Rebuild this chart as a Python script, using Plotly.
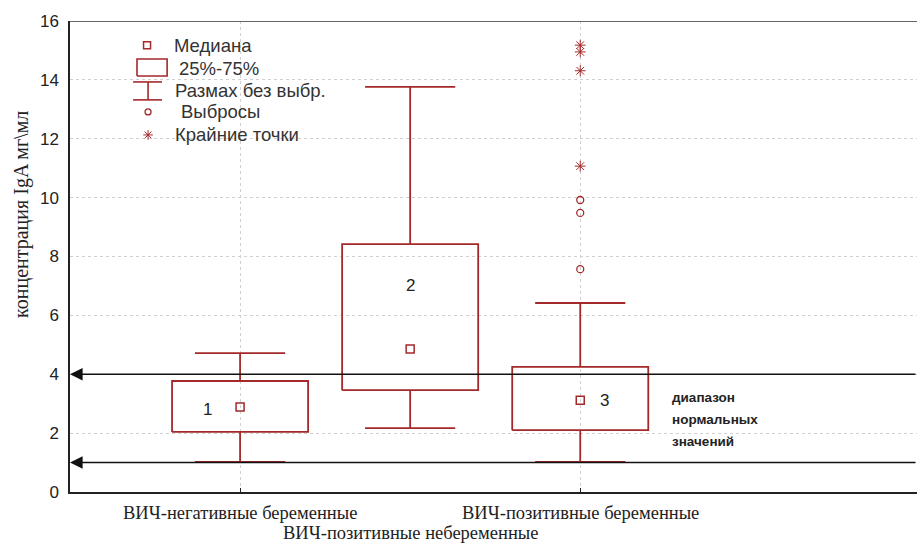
import plotly.graph_objects as go

# Groups and box statistics (IgA concentration, mg/ml)
groups = ["ВИЧ-негативные беременные", "ВИЧ-позитивные небеременные", "ВИЧ-позитивные беременные"]
positions = [1, 2, 3]
box_labels = ["1", "2", "3"]
medians = [2.89, 4.86, 3.12]
q1 = [2.04, 3.46, 2.10]
q3 = [3.77, 8.42, 4.25]
whisk_lo = [1.02, 2.17, 1.02]
whisk_hi = [4.72, 13.76, 6.42]

# Outliers and extreme points of group 3
outliers_3 = [9.92, 9.48, 7.57]
extremes_3 = [15.18, 14.95, 14.31, 11.07]

# Normal range boundaries
norm_range = [1.0, 4.0]

RED = "#A3292B"
BOX_HW = 0.4
CAP_HW = 0.265
X_MAX = 4.98

fig = go.Figure()

for x, lo, a, b, hi in zip(positions, whisk_lo, q1, q3, whisk_hi):
    # box
    fig.add_trace(go.Scatter(
        x=[x - BOX_HW, x + BOX_HW, x + BOX_HW, x - BOX_HW, x - BOX_HW],
        y=[a, a, b, b, a], mode="lines",
        line=dict(color=RED, width=1.8), hoverinfo="skip", showlegend=False))
    # whiskers and caps
    fig.add_trace(go.Scatter(
        x=[x, x, None, x, x, None, x - CAP_HW, x + CAP_HW, None, x - CAP_HW, x + CAP_HW],
        y=[b, hi, None, a, lo, None, hi, hi, None, lo, lo], mode="lines",
        line=dict(color=RED, width=1.8), hoverinfo="skip", showlegend=False))

# medians
fig.add_trace(go.Scatter(
    x=positions, y=medians, mode="markers",
    marker=dict(symbol="square-open", size=8, color=RED, line=dict(width=1.5)),
    showlegend=False))

# outliers and extremes
fig.add_trace(go.Scatter(
    x=[3] * len(outliers_3), y=outliers_3, mode="markers",
    marker=dict(symbol="circle-open", size=7, color=RED, line=dict(width=1.3)),
    showlegend=False))
fig.add_trace(go.Scatter(
    x=[3] * len(extremes_3), y=extremes_3, mode="markers",
    marker=dict(symbol="asterisk-open", size=9, color=RED, line=dict(width=1)),
    showlegend=False))

# box numbers
label_pos = [(0.81, 2.79), (2.0, 7.03), (3.14, 3.12)]
for (lx, ly), t in zip(label_pos, box_labels):
    fig.add_annotation(x=lx, y=ly, text=t, showarrow=False,
                       font=dict(family="Liberation Sans, Arial", size=17, color="#222"))

# legend key drawn inside the plot
fig.add_trace(go.Scatter(x=[0.453], y=[15.18], mode="markers",
                         marker=dict(symbol="square-open", size=7, color=RED, line=dict(width=1.5)),
                         showlegend=False))
fig.add_trace(go.Scatter(x=[0.394, 0.571, 0.571, 0.394, 0.394],
                         y=[14.13, 14.13, 14.71, 14.71, 14.13], mode="lines",
                         line=dict(color=RED, width=1.6), showlegend=False))
fig.add_trace(go.Scatter(x=[0.371, 0.541, None, 0.371, 0.541, None, 0.459, 0.459],
                         y=[13.93, 13.93, None, 13.32, 13.32, None, 13.93, 13.32], mode="lines",
                         line=dict(color=RED, width=1.6), showlegend=False))
fig.add_trace(go.Scatter(x=[0.459], y=[12.91], mode="markers",
                         marker=dict(symbol="circle-open", size=6, color=RED, line=dict(width=1.3)),
                         showlegend=False))
fig.add_trace(go.Scatter(x=[0.459], y=[12.13], mode="markers",
                         marker=dict(symbol="asterisk-open", size=8, color=RED, line=dict(width=1)),
                         showlegend=False))
legend_text = [(0.60, 15.18, "Медиана"), (0.629, 14.40, "25%-75%"),
               (0.606, 13.65, "Размах без выбр."), (0.641, 12.91, "Выбросы"),
               (0.606, 12.13, "Крайние точки")]
for lx, ly, t in legend_text:
    fig.add_annotation(x=lx, y=ly, text=t, showarrow=False, xanchor="left",
                       font=dict(family="Liberation Sans, Arial", size=18.5, color="#333"))

# normal range arrows
for v in norm_range:
    fig.add_annotation(x=0, y=v, ax=X_MAX, ay=v, axref="x", ayref="y",
                       xref="x", yref="y", text="", showarrow=True,
                       arrowhead=2, arrowsize=1.8, arrowwidth=1.4, arrowcolor="#111")

# normal range caption
range_caption = ["диапазон", "нормальных", "значений"]
for i, t in enumerate(range_caption):
    fig.add_annotation(x=3.53, y=3.2 - i * 0.75, xanchor="left", yanchor="middle",
                       showarrow=False, text="<b>" + t + "</b>",
                       font=dict(family="Liberation Sans, Arial", size=13.5, color="#222"))

# category labels under the axis
cat_y = [-0.045, -0.086, -0.045]
for x, ly, g in zip(positions, cat_y, groups):
    fig.add_annotation(x=x, y=ly, yref="paper", text=g, showarrow=False, yanchor="middle",
                       font=dict(family="Liberation Serif, Times New Roman", size=18.5, color="#222"))

# y-axis title
fig.add_annotation(xref="paper", yref="paper", x=-0.074, y=0.59, text="концентрация IgA мг\\мл",
                   textangle=-90, showarrow=False,
                   font=dict(family="Liberation Serif, Times New Roman", size=20, color="#222"))

# top frame line
fig.add_shape(type="line", xref="paper", yref="y", x0=0, x1=1, y0=16, y1=16,
              line=dict(color="#333", width=1.5))

fig.update_layout(
    width=917, height=543,
    margin=dict(l=70, r=0, t=21, b=51),
    plot_bgcolor="white", paper_bgcolor="white",
    xaxis=dict(range=[0, X_MAX], tickvals=[1, 3], ticktext=["", ""],
               showgrid=True, gridcolor="#d0d0d0", griddash="dot", gridwidth=1,
               showline=True, linecolor="#222", linewidth=1.5,
               ticks="inside", ticklen=4, tickcolor="#222", zeroline=False),
    yaxis=dict(range=[0, 16], tickvals=list(range(0, 17, 2)),
               showgrid=True, gridcolor="#d0d0d0", griddash="dot", gridwidth=1,
               showline=True, linecolor="#222", linewidth=1.5,
               ticks="", zeroline=False, ticklabelstandoff=6,
               tickfont=dict(family="Liberation Sans, Arial", size=17, color="#222")),
)

fig.write_html("out.html")
